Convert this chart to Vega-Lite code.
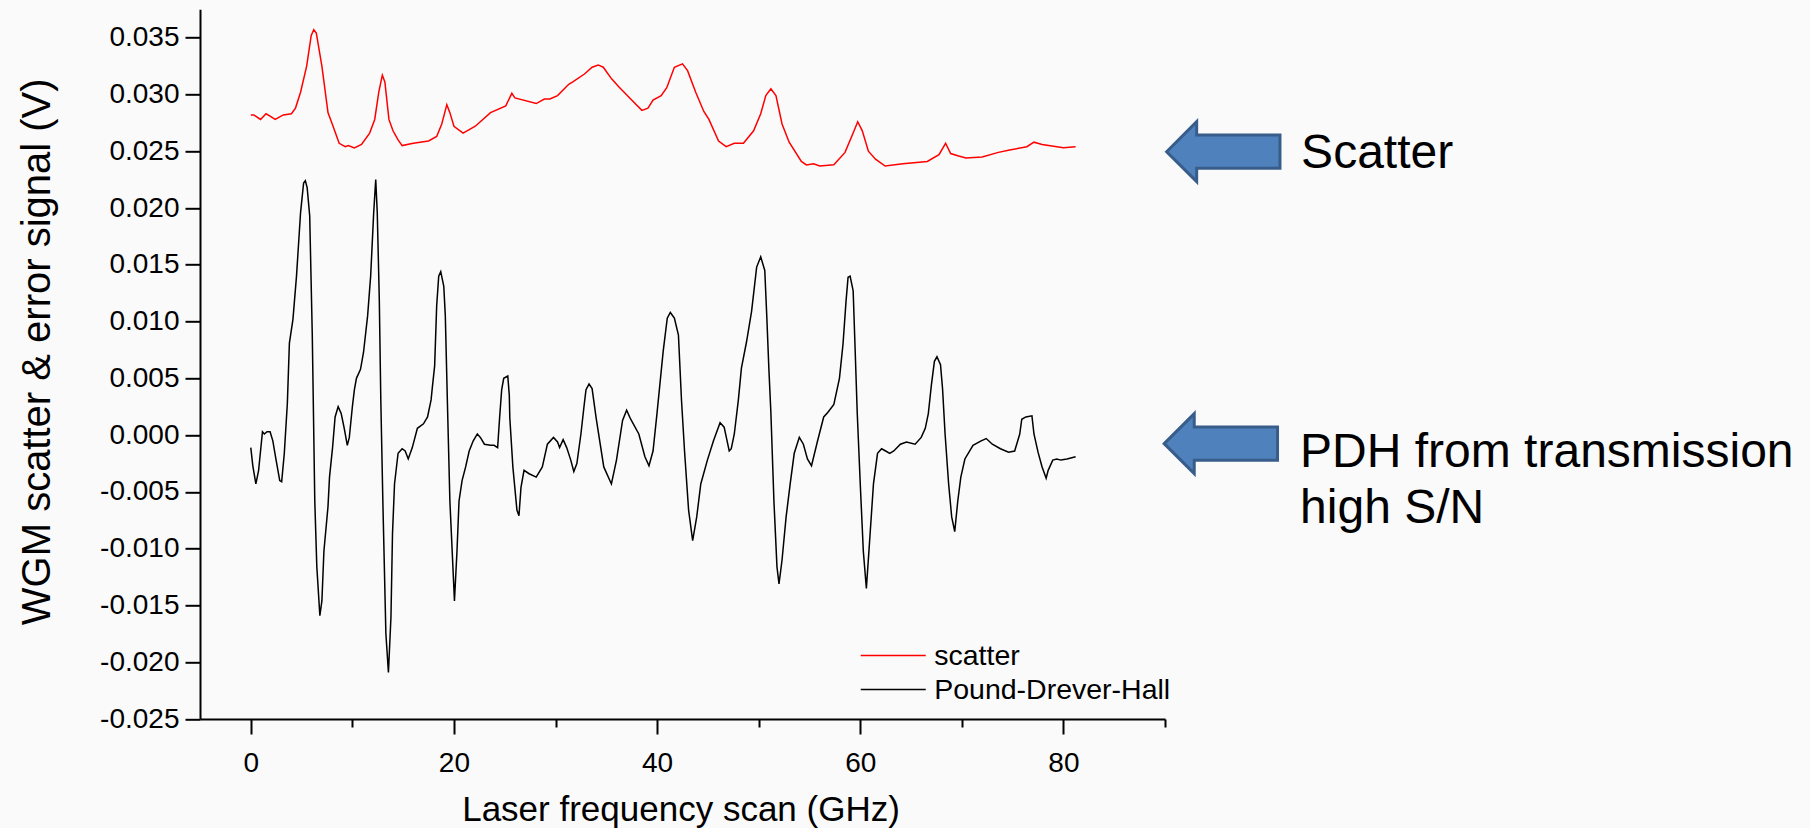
{
  "$schema": "https://vega.github.io/schema/vega-lite/v6.json",
  "width": 965,
  "height": 709.7,
  "autosize": {"type": "none"},
  "padding": {"left": 200, "top": 9.3, "right": 645, "bottom": 109},
  "background": "#FAFAFA",
  "config": {
    "view": {"stroke": null},
    "font": "Liberation Sans",
    "axis": {"domainColor": "#000000", "domainWidth": 2, "tickColor": "#000000", "tickWidth": 2, "labelColor": "#000000", "titleColor": "#000000", "titleFontWeight": "normal", "labelFont": "Liberation Sans", "titleFont": "Liberation Sans", "grid": false, "labelOverlap": false, "labelFlush": false}
  },
  "datasets": {
    "curves": [
      {"s":"scatter","x":0.0,"y":0.0282},{"s":"scatter","x":0.3,"y":0.0282},{"s":"scatter","x":0.96,"y":0.0278},{"s":"scatter","x":1.5,"y":0.0283},{"s":"scatter","x":1.9,"y":0.0281},{"s":"scatter","x":2.4,"y":0.0278},{"s":"scatter","x":3.2,"y":0.0282},{"s":"scatter","x":4.0,"y":0.0283},{"s":"scatter","x":4.4,"y":0.0288},{"s":"scatter","x":4.9,"y":0.0302},{"s":"scatter","x":5.5,"y":0.0325},{"s":"scatter","x":5.95,"y":0.0352},{"s":"scatter","x":6.2,"y":0.0357},{"s":"scatter","x":6.45,"y":0.0354},{"s":"scatter","x":7.0,"y":0.0325},{"s":"scatter","x":7.6,"y":0.0284},{"s":"scatter","x":8.1,"y":0.0272},{"s":"scatter","x":8.7,"y":0.0257},{"s":"scatter","x":9.3,"y":0.0254},{"s":"scatter","x":9.6,"y":0.0255},{"s":"scatter","x":10.2,"y":0.0253},{"s":"scatter","x":10.9,"y":0.0256},{"s":"scatter","x":11.7,"y":0.0266},{"s":"scatter","x":12.2,"y":0.0278},{"s":"scatter","x":12.6,"y":0.0302},{"s":"scatter","x":12.95,"y":0.0317},{"s":"scatter","x":13.2,"y":0.0311},{"s":"scatter","x":13.6,"y":0.0278},{"s":"scatter","x":14.0,"y":0.0268},{"s":"scatter","x":14.5,"y":0.026},{"s":"scatter","x":14.9,"y":0.0255},{"s":"scatter","x":16.0,"y":0.0257},{"s":"scatter","x":17.5,"y":0.0259},{"s":"scatter","x":18.3,"y":0.0263},{"s":"scatter","x":18.8,"y":0.0274},{"s":"scatter","x":19.3,"y":0.0291},{"s":"scatter","x":19.6,"y":0.0284},{"s":"scatter","x":20.0,"y":0.0272},{"s":"scatter","x":20.9,"y":0.0266},{"s":"scatter","x":22.1,"y":0.0272},{"s":"scatter","x":23.6,"y":0.0284},{"s":"scatter","x":25.1,"y":0.029},{"s":"scatter","x":25.7,"y":0.0301},{"s":"scatter","x":26.0,"y":0.0297},{"s":"scatter","x":28.1,"y":0.0292},{"s":"scatter","x":28.9,"y":0.0296},{"s":"scatter","x":29.45,"y":0.0296},{"s":"scatter","x":30.2,"y":0.0299},{"s":"scatter","x":31.3,"y":0.0309},{"s":"scatter","x":31.7,"y":0.0311},{"s":"scatter","x":32.85,"y":0.0318},{"s":"scatter","x":33.6,"y":0.0324},{"s":"scatter","x":34.2,"y":0.0326},{"s":"scatter","x":34.7,"y":0.0324},{"s":"scatter","x":35.5,"y":0.0314},{"s":"scatter","x":36.2,"y":0.0307},{"s":"scatter","x":37.4,"y":0.0296},{"s":"scatter","x":38.5,"y":0.0286},{"s":"scatter","x":39.1,"y":0.0288},{"s":"scatter","x":39.6,"y":0.0295},{"s":"scatter","x":40.4,"y":0.0299},{"s":"scatter","x":40.95,"y":0.0306},{"s":"scatter","x":41.7,"y":0.0324},{"s":"scatter","x":42.5,"y":0.0327},{"s":"scatter","x":43.0,"y":0.0321},{"s":"scatter","x":43.8,"y":0.0302},{"s":"scatter","x":44.6,"y":0.0285},{"s":"scatter","x":45.1,"y":0.0278},{"s":"scatter","x":46.05,"y":0.0259},{"s":"scatter","x":46.8,"y":0.0254},{"s":"scatter","x":47.6,"y":0.0257},{"s":"scatter","x":48.5,"y":0.0257},{"s":"scatter","x":49.5,"y":0.0268},{"s":"scatter","x":50.2,"y":0.0283},{"s":"scatter","x":50.7,"y":0.0299},{"s":"scatter","x":51.2,"y":0.0305},{"s":"scatter","x":51.7,"y":0.0299},{"s":"scatter","x":52.3,"y":0.0274},{"s":"scatter","x":53.0,"y":0.0258},{"s":"scatter","x":54.2,"y":0.0241},{"s":"scatter","x":54.7,"y":0.0238},{"s":"scatter","x":55.4,"y":0.0239},{"s":"scatter","x":56.0,"y":0.0237},{"s":"scatter","x":57.4,"y":0.0238},{"s":"scatter","x":58.5,"y":0.0249},{"s":"scatter","x":59.3,"y":0.0266},{"s":"scatter","x":59.75,"y":0.0276},{"s":"scatter","x":60.2,"y":0.0268},{"s":"scatter","x":60.8,"y":0.025},{"s":"scatter","x":61.5,"y":0.0243},{"s":"scatter","x":62.45,"y":0.0237},{"s":"scatter","x":64.2,"y":0.0239},{"s":"scatter","x":66.6,"y":0.0241},{"s":"scatter","x":67.75,"y":0.0247},{"s":"scatter","x":68.4,"y":0.0257},{"s":"scatter","x":68.9,"y":0.0248},{"s":"scatter","x":69.6,"y":0.0246},{"s":"scatter","x":70.4,"y":0.0244},{"s":"scatter","x":72.0,"y":0.0245},{"s":"scatter","x":73.6,"y":0.0249},{"s":"scatter","x":74.7,"y":0.0251},{"s":"scatter","x":76.4,"y":0.0254},{"s":"scatter","x":77.1,"y":0.0258},{"s":"scatter","x":77.9,"y":0.0256},{"s":"scatter","x":80.0,"y":0.0253},{"s":"scatter","x":81.2,"y":0.0254},
      {"s":"Pound-Drever-Hall","x":0.0,"y":-0.0011},{"s":"Pound-Drever-Hall","x":0.2,"y":-0.0027},{"s":"Pound-Drever-Hall","x":0.5,"y":-0.0043},{"s":"Pound-Drever-Hall","x":0.77,"y":-0.0031},{"s":"Pound-Drever-Hall","x":1.15,"y":0.0003},{"s":"Pound-Drever-Hall","x":1.34,"y":0.0001},{"s":"Pound-Drever-Hall","x":1.6,"y":0.0003},{"s":"Pound-Drever-Hall","x":1.9,"y":0.0003},{"s":"Pound-Drever-Hall","x":2.17,"y":-0.0005},{"s":"Pound-Drever-Hall","x":2.47,"y":-0.0021},{"s":"Pound-Drever-Hall","x":2.85,"y":-0.004},{"s":"Pound-Drever-Hall","x":3.04,"y":-0.0041},{"s":"Pound-Drever-Hall","x":3.3,"y":-0.0016},{"s":"Pound-Drever-Hall","x":3.6,"y":0.0028},{"s":"Pound-Drever-Hall","x":3.8,"y":0.0081},{"s":"Pound-Drever-Hall","x":4.15,"y":0.0102},{"s":"Pound-Drever-Hall","x":4.5,"y":0.014},{"s":"Pound-Drever-Hall","x":4.9,"y":0.0196},{"s":"Pound-Drever-Hall","x":5.2,"y":0.0222},{"s":"Pound-Drever-Hall","x":5.37,"y":0.0224},{"s":"Pound-Drever-Hall","x":5.55,"y":0.0218},{"s":"Pound-Drever-Hall","x":5.8,"y":0.0193},{"s":"Pound-Drever-Hall","x":6.05,"y":0.009},{"s":"Pound-Drever-Hall","x":6.15,"y":0.0031},{"s":"Pound-Drever-Hall","x":6.3,"y":-0.0058},{"s":"Pound-Drever-Hall","x":6.5,"y":-0.0116},{"s":"Pound-Drever-Hall","x":6.8,"y":-0.0159},{"s":"Pound-Drever-Hall","x":7.0,"y":-0.0146},{"s":"Pound-Drever-Hall","x":7.2,"y":-0.0102},{"s":"Pound-Drever-Hall","x":7.6,"y":-0.0063},{"s":"Pound-Drever-Hall","x":7.75,"y":-0.0037},{"s":"Pound-Drever-Hall","x":8.05,"y":-0.0011},{"s":"Pound-Drever-Hall","x":8.3,"y":0.0016},{"s":"Pound-Drever-Hall","x":8.6,"y":0.0025},{"s":"Pound-Drever-Hall","x":8.9,"y":0.0019},{"s":"Pound-Drever-Hall","x":9.2,"y":0.0006},{"s":"Pound-Drever-Hall","x":9.5,"y":-0.0009},{"s":"Pound-Drever-Hall","x":9.7,"y":-0.0002},{"s":"Pound-Drever-Hall","x":10.0,"y":0.0025},{"s":"Pound-Drever-Hall","x":10.2,"y":0.004},{"s":"Pound-Drever-Hall","x":10.4,"y":0.005},{"s":"Pound-Drever-Hall","x":10.8,"y":0.0058},{"s":"Pound-Drever-Hall","x":11.1,"y":0.0073},{"s":"Pound-Drever-Hall","x":11.5,"y":0.0105},{"s":"Pound-Drever-Hall","x":11.8,"y":0.014},{"s":"Pound-Drever-Hall","x":12.1,"y":0.0196},{"s":"Pound-Drever-Hall","x":12.3,"y":0.0225},{"s":"Pound-Drever-Hall","x":12.45,"y":0.0196},{"s":"Pound-Drever-Hall","x":12.65,"y":0.012},{"s":"Pound-Drever-Hall","x":12.8,"y":0.0031},{"s":"Pound-Drever-Hall","x":13.0,"y":-0.0058},{"s":"Pound-Drever-Hall","x":13.3,"y":-0.0175},{"s":"Pound-Drever-Hall","x":13.55,"y":-0.0209},{"s":"Pound-Drever-Hall","x":13.8,"y":-0.016},{"s":"Pound-Drever-Hall","x":13.95,"y":-0.0087},{"s":"Pound-Drever-Hall","x":14.15,"y":-0.0043},{"s":"Pound-Drever-Hall","x":14.5,"y":-0.0016},{"s":"Pound-Drever-Hall","x":14.9,"y":-0.0012},{"s":"Pound-Drever-Hall","x":15.2,"y":-0.0014},{"s":"Pound-Drever-Hall","x":15.5,"y":-0.0021},{"s":"Pound-Drever-Hall","x":15.9,"y":-0.0011},{"s":"Pound-Drever-Hall","x":16.4,"y":0.0006},{"s":"Pound-Drever-Hall","x":17.0,"y":0.001},{"s":"Pound-Drever-Hall","x":17.4,"y":0.0016},{"s":"Pound-Drever-Hall","x":17.75,"y":0.0031},{"s":"Pound-Drever-Hall","x":17.85,"y":0.004},{"s":"Pound-Drever-Hall","x":18.1,"y":0.0061},{"s":"Pound-Drever-Hall","x":18.3,"y":0.0114},{"s":"Pound-Drever-Hall","x":18.5,"y":0.014},{"s":"Pound-Drever-Hall","x":18.7,"y":0.0144},{"s":"Pound-Drever-Hall","x":19.0,"y":0.0131},{"s":"Pound-Drever-Hall","x":19.15,"y":0.0105},{"s":"Pound-Drever-Hall","x":19.35,"y":0.0031},{"s":"Pound-Drever-Hall","x":19.6,"y":-0.0058},{"s":"Pound-Drever-Hall","x":20.05,"y":-0.0146},{"s":"Pound-Drever-Hall","x":20.3,"y":-0.0102},{"s":"Pound-Drever-Hall","x":20.5,"y":-0.0058},{"s":"Pound-Drever-Hall","x":20.8,"y":-0.004},{"s":"Pound-Drever-Hall","x":21.15,"y":-0.0028},{"s":"Pound-Drever-Hall","x":21.5,"y":-0.0014},{"s":"Pound-Drever-Hall","x":21.9,"y":-0.0005},{"s":"Pound-Drever-Hall","x":22.3,"y":0.0001},{"s":"Pound-Drever-Hall","x":22.6,"y":-0.0002},{"s":"Pound-Drever-Hall","x":23.0,"y":-0.0008},{"s":"Pound-Drever-Hall","x":23.6,"y":-0.0009},{"s":"Pound-Drever-Hall","x":23.95,"y":-0.0009},{"s":"Pound-Drever-Hall","x":24.3,"y":-0.0011},{"s":"Pound-Drever-Hall","x":24.5,"y":0.0016},{"s":"Pound-Drever-Hall","x":24.7,"y":0.004},{"s":"Pound-Drever-Hall","x":24.9,"y":0.005},{"s":"Pound-Drever-Hall","x":25.3,"y":0.0052},{"s":"Pound-Drever-Hall","x":25.45,"y":0.0035},{"s":"Pound-Drever-Hall","x":25.5,"y":0.0015},{"s":"Pound-Drever-Hall","x":25.8,"y":-0.0028},{"s":"Pound-Drever-Hall","x":26.2,"y":-0.0066},{"s":"Pound-Drever-Hall","x":26.4,"y":-0.0071},{"s":"Pound-Drever-Hall","x":26.6,"y":-0.0046},{"s":"Pound-Drever-Hall","x":26.9,"y":-0.0031},{"s":"Pound-Drever-Hall","x":27.4,"y":-0.0034},{"s":"Pound-Drever-Hall","x":28.1,"y":-0.0037},{"s":"Pound-Drever-Hall","x":28.7,"y":-0.0028},{"s":"Pound-Drever-Hall","x":29.2,"y":-0.0008},{"s":"Pound-Drever-Hall","x":29.8,"y":-0.0002},{"s":"Pound-Drever-Hall","x":30.2,"y":-0.0006},{"s":"Pound-Drever-Hall","x":30.4,"y":-0.0011},{"s":"Pound-Drever-Hall","x":30.75,"y":-0.0004},{"s":"Pound-Drever-Hall","x":31.1,"y":-0.0011},{"s":"Pound-Drever-Hall","x":31.5,"y":-0.0022},{"s":"Pound-Drever-Hall","x":31.8,"y":-0.0032},{"s":"Pound-Drever-Hall","x":32.1,"y":-0.0025},{"s":"Pound-Drever-Hall","x":32.5,"y":0.0001},{"s":"Pound-Drever-Hall","x":32.8,"y":0.0025},{"s":"Pound-Drever-Hall","x":33.0,"y":0.004},{"s":"Pound-Drever-Hall","x":33.3,"y":0.0045},{"s":"Pound-Drever-Hall","x":33.6,"y":0.0041},{"s":"Pound-Drever-Hall","x":34.0,"y":0.0015},{"s":"Pound-Drever-Hall","x":34.75,"y":-0.0028},{"s":"Pound-Drever-Hall","x":35.5,"y":-0.0043},{"s":"Pound-Drever-Hall","x":36.0,"y":-0.0022},{"s":"Pound-Drever-Hall","x":36.6,"y":0.0013},{"s":"Pound-Drever-Hall","x":37.0,"y":0.0022},{"s":"Pound-Drever-Hall","x":37.4,"y":0.0014},{"s":"Pound-Drever-Hall","x":38.2,"y":0.0001},{"s":"Pound-Drever-Hall","x":38.8,"y":-0.0019},{"s":"Pound-Drever-Hall","x":39.2,"y":-0.0027},{"s":"Pound-Drever-Hall","x":39.6,"y":-0.0014},{"s":"Pound-Drever-Hall","x":40.0,"y":0.002},{"s":"Pound-Drever-Hall","x":40.6,"y":0.0074},{"s":"Pound-Drever-Hall","x":41.0,"y":0.0103},{"s":"Pound-Drever-Hall","x":41.3,"y":0.0108},{"s":"Pound-Drever-Hall","x":41.7,"y":0.0103},{"s":"Pound-Drever-Hall","x":42.1,"y":0.0088},{"s":"Pound-Drever-Hall","x":42.4,"y":0.0031},{"s":"Pound-Drever-Hall","x":42.7,"y":-0.0014},{"s":"Pound-Drever-Hall","x":43.1,"y":-0.0066},{"s":"Pound-Drever-Hall","x":43.5,"y":-0.0093},{"s":"Pound-Drever-Hall","x":43.9,"y":-0.0072},{"s":"Pound-Drever-Hall","x":44.3,"y":-0.0043},{"s":"Pound-Drever-Hall","x":44.95,"y":-0.0022},{"s":"Pound-Drever-Hall","x":45.55,"y":-0.0005},{"s":"Pound-Drever-Hall","x":46.2,"y":0.0011},{"s":"Pound-Drever-Hall","x":46.6,"y":0.0007},{"s":"Pound-Drever-Hall","x":47.1,"y":-0.0014},{"s":"Pound-Drever-Hall","x":47.3,"y":-0.0012},{"s":"Pound-Drever-Hall","x":47.6,"y":0.0001},{"s":"Pound-Drever-Hall","x":48.0,"y":0.0031},{"s":"Pound-Drever-Hall","x":48.3,"y":0.0059},{"s":"Pound-Drever-Hall","x":48.8,"y":0.0082},{"s":"Pound-Drever-Hall","x":49.3,"y":0.0109},{"s":"Pound-Drever-Hall","x":49.8,"y":0.0148},{"s":"Pound-Drever-Hall","x":50.2,"y":0.0157},{"s":"Pound-Drever-Hall","x":50.6,"y":0.0145},{"s":"Pound-Drever-Hall","x":50.8,"y":0.0104},{"s":"Pound-Drever-Hall","x":51.0,"y":0.0059},{"s":"Pound-Drever-Hall","x":51.2,"y":0.002},{"s":"Pound-Drever-Hall","x":51.5,"y":-0.0058},{"s":"Pound-Drever-Hall","x":51.8,"y":-0.0116},{"s":"Pound-Drever-Hall","x":52.0,"y":-0.0131},{"s":"Pound-Drever-Hall","x":52.3,"y":-0.011},{"s":"Pound-Drever-Hall","x":52.7,"y":-0.0072},{"s":"Pound-Drever-Hall","x":53.1,"y":-0.0043},{"s":"Pound-Drever-Hall","x":53.5,"y":-0.0016},{"s":"Pound-Drever-Hall","x":54.0,"y":-0.0002},{"s":"Pound-Drever-Hall","x":54.4,"y":-0.0008},{"s":"Pound-Drever-Hall","x":54.8,"y":-0.0021},{"s":"Pound-Drever-Hall","x":55.2,"y":-0.0027},{"s":"Pound-Drever-Hall","x":55.8,"y":-0.0005},{"s":"Pound-Drever-Hall","x":56.4,"y":0.0016},{"s":"Pound-Drever-Hall","x":56.8,"y":0.002},{"s":"Pound-Drever-Hall","x":57.4,"y":0.0027},{"s":"Pound-Drever-Hall","x":57.95,"y":0.005},{"s":"Pound-Drever-Hall","x":58.3,"y":0.008},{"s":"Pound-Drever-Hall","x":58.6,"y":0.0118},{"s":"Pound-Drever-Hall","x":58.8,"y":0.0139},{"s":"Pound-Drever-Hall","x":59.0,"y":0.014},{"s":"Pound-Drever-Hall","x":59.3,"y":0.0127},{"s":"Pound-Drever-Hall","x":59.5,"y":0.0074},{"s":"Pound-Drever-Hall","x":59.7,"y":0.002},{"s":"Pound-Drever-Hall","x":60.0,"y":-0.0043},{"s":"Pound-Drever-Hall","x":60.3,"y":-0.0102},{"s":"Pound-Drever-Hall","x":60.6,"y":-0.0135},{"s":"Pound-Drever-Hall","x":60.9,"y":-0.0096},{"s":"Pound-Drever-Hall","x":61.3,"y":-0.0043},{"s":"Pound-Drever-Hall","x":61.7,"y":-0.0016},{"s":"Pound-Drever-Hall","x":62.1,"y":-0.0012},{"s":"Pound-Drever-Hall","x":62.5,"y":-0.0014},{"s":"Pound-Drever-Hall","x":62.9,"y":-0.0016},{"s":"Pound-Drever-Hall","x":63.3,"y":-0.0014},{"s":"Pound-Drever-Hall","x":63.95,"y":-0.0008},{"s":"Pound-Drever-Hall","x":64.55,"y":-0.0006},{"s":"Pound-Drever-Hall","x":65.4,"y":-0.0008},{"s":"Pound-Drever-Hall","x":66.0,"y":-0.0002},{"s":"Pound-Drever-Hall","x":66.4,"y":0.0006},{"s":"Pound-Drever-Hall","x":66.7,"y":0.0019},{"s":"Pound-Drever-Hall","x":67.0,"y":0.0044},{"s":"Pound-Drever-Hall","x":67.3,"y":0.0065},{"s":"Pound-Drever-Hall","x":67.55,"y":0.0069},{"s":"Pound-Drever-Hall","x":67.9,"y":0.0062},{"s":"Pound-Drever-Hall","x":68.1,"y":0.0041},{"s":"Pound-Drever-Hall","x":68.35,"y":0.0001},{"s":"Pound-Drever-Hall","x":68.7,"y":-0.0043},{"s":"Pound-Drever-Hall","x":69.0,"y":-0.0072},{"s":"Pound-Drever-Hall","x":69.3,"y":-0.0085},{"s":"Pound-Drever-Hall","x":69.6,"y":-0.0058},{"s":"Pound-Drever-Hall","x":69.9,"y":-0.0037},{"s":"Pound-Drever-Hall","x":70.3,"y":-0.0021},{"s":"Pound-Drever-Hall","x":71.1,"y":-0.0009},{"s":"Pound-Drever-Hall","x":71.9,"y":-0.0005},{"s":"Pound-Drever-Hall","x":72.4,"y":-0.0003},{"s":"Pound-Drever-Hall","x":73.0,"y":-0.0008},{"s":"Pound-Drever-Hall","x":73.8,"y":-0.0012},{"s":"Pound-Drever-Hall","x":74.6,"y":-0.0015},{"s":"Pound-Drever-Hall","x":75.2,"y":-0.0014},{"s":"Pound-Drever-Hall","x":75.7,"y":0.0001},{"s":"Pound-Drever-Hall","x":75.9,"y":0.0014},{"s":"Pound-Drever-Hall","x":76.3,"y":0.0016},{"s":"Pound-Drever-Hall","x":76.9,"y":0.0017},{"s":"Pound-Drever-Hall","x":77.1,"y":0.0001},{"s":"Pound-Drever-Hall","x":77.5,"y":-0.0015},{"s":"Pound-Drever-Hall","x":77.9,"y":-0.0028},{"s":"Pound-Drever-Hall","x":78.3,"y":-0.0038},{"s":"Pound-Drever-Hall","x":78.5,"y":-0.0031},{"s":"Pound-Drever-Hall","x":78.95,"y":-0.0022},{"s":"Pound-Drever-Hall","x":79.35,"y":-0.0021},{"s":"Pound-Drever-Hall","x":79.75,"y":-0.0022},{"s":"Pound-Drever-Hall","x":80.35,"y":-0.0021},{"s":"Pound-Drever-Hall","x":81.2,"y":-0.0019}
    ],
    "notes": [
      {"label": "Scatter", "ax": 95.74, "ay": 0.02496, "tx": 103.4, "ty": 0.02353},
      {"label": "PDH from transmission\nhigh S/N", "ax": 95.5, "ay": -0.00075, "tx": 103.3, "ty": -0.00278}
    ]
  },
  "layer": [
    {
      "data": {"name": "curves"},
      "mark": {"type": "line", "strokeWidth": 1.5},
      "encoding": {
        "x": {
          "field": "x", "type": "quantitative",
          "scale": {"domain": [-5, 90], "nice": false, "zero": false},
          "axis": {
            "title": "Laser frequency scan (GHz)",
            "values": [0, 10, 20, 30, 40, 50, 60, 70, 80, 90],
            "labelExpr": "datum.value % 20 == 0 ? format(datum.value, 'd') : ''",
            "tickSize": {"condition": {"test": "datum.value % 20 != 0", "value": 8}, "value": 15},
            "labelFontSize": 28, "labelPadding": 15,
            "titleFontSize": 35, "titleX": 480.5, "titleY": 101, "titleAlign": "center", "titleBaseline": "alphabetic"
          }
        },
        "y": {
          "field": "y", "type": "quantitative",
          "scale": {"domain": [-0.025, 0.0375], "nice": false, "zero": false},
          "axis": {
            "title": "WGM scatter & error signal (V)",
            "values": [-0.025, -0.0225, -0.02, -0.0175, -0.015, -0.0125, -0.01, -0.0075, -0.005, -0.0025, 0, 0.0025, 0.005, 0.0075, 0.01, 0.0125, 0.015, 0.0175, 0.02, 0.0225, 0.025, 0.0275, 0.03, 0.0325, 0.035, 0.0375],
            "labelExpr": "abs(round(datum.value * 10000)) % 50 == 0 ? (datum.value < -0.00001 ? '-' : '') + format(abs(datum.value), '.3f') : ''",
            "tickSize": {"condition": {"test": "abs(round(datum.value * 10000)) % 50 != 0", "value": 8}, "value": 15},
            "labelFontSize": 28, "labelPadding": 6,
            "titleFontSize": 40, "titleAngle": 270, "titleX": -151, "titleY": 342, "titleAlign": "center", "titleBaseline": "alphabetic"
          }
        },
        "color": {
          "field": "s", "type": "nominal",
          "scale": {"domain": ["scatter", "Pound-Drever-Hall"], "range": ["#FF0000", "#000000"]},
          "legend": {
            "orient": "none", "legendX": 679, "legendY": 632, "title": null,
            "symbolType": "M-5,0H5", "symbolSize": 169, "symbolStrokeWidth": 1.5,
            "labelFontSize": 28.5, "labelOffset": 26.7, "labelLimit": 0, "rowPadding": 5, "padding": 0,
            "labelFont": "Liberation Sans", "labelColor": "#000000"
          }
        }
      }
    },
    {
      "data": {"name": "notes"},
      "mark": {"type": "point", "shape": "M-1,0L-0.47,-0.529L-0.47,-0.294L1,-0.294L1,0.294L-0.47,0.294L-0.47,0.529Z", "size": 12844, "filled": true, "fill": "#4F81BD", "stroke": "#385D8A", "strokeWidth": 3, "opacity": 1},
      "encoding": {
        "x": {"field": "ax", "type": "quantitative"},
        "y": {"field": "ay", "type": "quantitative"}
      }
    },
    {
      "data": {"name": "notes"},
      "mark": {"type": "text", "align": "left", "baseline": "alphabetic", "fontSize": 48, "lineBreak": "\n", "lineHeight": 56.3, "color": "#000000", "font": "Liberation Sans"},
      "encoding": {
        "x": {"field": "tx", "type": "quantitative"},
        "y": {"field": "ty", "type": "quantitative"},
        "text": {"field": "label"}
      }
    }
  ]
}
